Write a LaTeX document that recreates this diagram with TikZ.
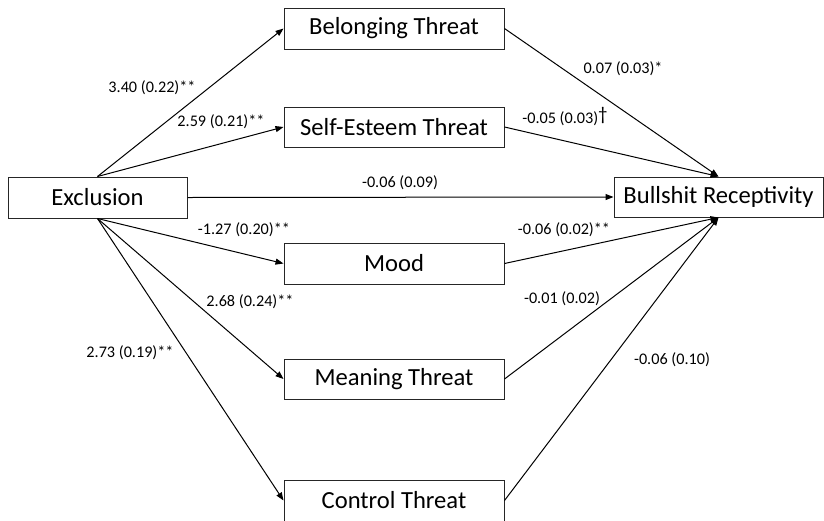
\documentclass[tikz,border=0pt]{standalone}
\usepackage{fontspec}
\setmainfont{Carlito}
\usetikzlibrary{arrows.meta}
\tikzset{
  box/.style={draw=black!85, line width=1pt, inner sep=0pt, font=\fontsize{24.6}{27}\selectfont, fill=white},
  path/.style={draw=black, line width=1pt, -{Triangle[length=8pt,width=6pt]}},
  coef/.style={font=\fontsize{16.2}{18}\selectfont, inner sep=0pt}
}
\begin{document}
\begin{tikzpicture}[x=1pt,y=-1pt]
\useasboundingbox (0,0) rectangle (824,520);
\node[box, minimum width=179pt, minimum height=41pt] (excl) at (97.5,197.5) {Exclusion};
\node[box, minimum width=220pt, minimum height=41pt] (belong) at (394,28.5) {Belonging Threat};
\node[box, minimum width=220pt, minimum height=40pt] (self) at (394,127) {Self-Esteem Threat};
\node[box, minimum width=220pt, minimum height=41pt] (mood) at (394,263.5) {Mood};
\node[box, minimum width=220pt, minimum height=40pt] (mean) at (394,379) {Meaning Threat};
\node[box, minimum width=220pt, minimum height=41pt] (ctrl) at (394,500.5) {Control Threat};
\node[box, minimum width=209pt, minimum height=40pt] (bs) at (718.5,197) {Bullshit Receptivity};

\draw[path] (excl.north) -- (belong.west);
\draw[path] (excl.north) -- (self.west);
\draw[path] (excl.east) -- (bs.west);
\draw[path] (excl.south) -- (mood.west);
\draw[path] (excl.south) -- (mean.west);
\draw[path] (excl.south) -- (ctrl.west);
\draw[path] (belong.east) -- (bs.north);
\draw[path] (self.east) -- (bs.north);
\draw[path] (mood.east) -- (bs.south);
\draw[path] (mean.east) -- (bs.south);
\draw[path] (ctrl.east) -- (bs.south);

\node[coef] (l1) at (152,88) {3.40 (0.22)**};
\node[coef] (l2) at (221,122) {2.59 (0.21)**};
\node[coef] (l3) at (400,183) {-0.06 (0.09)};
\node[coef] (l4) at (244,230) {-1.27 (0.20)**};
\node[coef] (l5) at (250,302) {2.68 (0.24)**};
\node[coef] (l6) at (130,353) {2.73 (0.19)**};
\node[coef] (l7) at (623,69) {0.07 (0.03)*};
\node[coef] (l8) at (565,117) {-0.05 (0.03)\raisebox{3pt}{\fontsize{19}{20}\selectfont †}};
\node[coef] (l9) at (564,230) {-0.06 (0.02)**};
\node[coef] (l10) at (562,299) {-0.01 (0.02)};
\node[coef] (l11) at (672,360) {-0.06 (0.10)};
\end{tikzpicture}
\end{document}
